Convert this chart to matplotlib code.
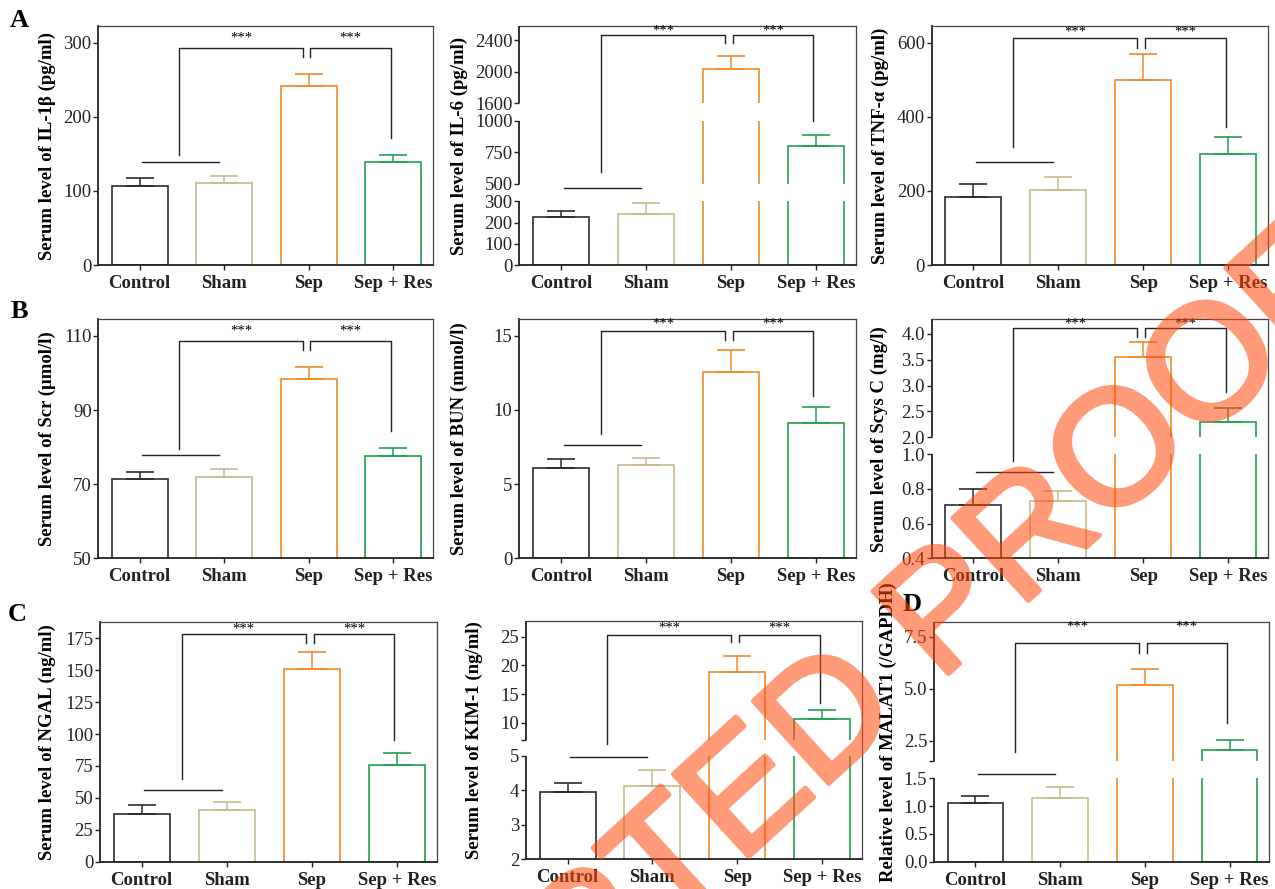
import matplotlib
matplotlib.use('Agg')
import matplotlib.pyplot as plt
import matplotlib.patheffects as pe
import numpy as np

plt.rcParams['font.family'] = ['Liberation Serif', 'DejaVu Serif']

groups = ['Control', 'Sham', 'Sep', 'Sep + Res']
bar_colors = ['#2b2b2b', '#c8bc8c', '#f08a2a', '#22a052']

# mean and upper error (SD) per group
il1b_mean = [107, 110, 242, 138.6]
il1b_err = [10, 10, 16, 10.4]
il6_mean = [225, 239, 2034, 800]
il6_err = [31, 52, 168, 88]
tnf_mean = [182.7, 201.6, 499.3, 299.6]
tnf_err = [35.9, 35.1, 69.4, 46.4]
scr_mean = [71.4, 72.0, 98.4, 77.7]
scr_err = [2.0, 2.0, 3.1, 2.1]
bun_mean = [6.10, 6.28, 12.57, 9.11]
bun_err = [0.57, 0.47, 1.46, 1.06]
scys_mean = [0.71, 0.729, 3.55, 2.29]
scys_err = [0.09, 0.061, 0.29, 0.27]
ngal_mean = [37.6, 40.2, 151.1, 75.5]
ngal_err = [6.8, 6.3, 13.3, 9.9]
kim1_mean = [3.96, 4.11, 18.8, 10.58]
kim1_err = [0.26, 0.49, 2.9, 1.69]
malat1_mean = [1.06, 1.14, 5.2, 2.05]
malat1_err = [0.13, 0.21, 0.77, 0.48]

# bracket heights: control/sham line, left leg end, top, Sep legs end, right leg end, stars
il1b_brk = [139, 148, 292.4, 281, 172, 306.7]
il6_brk = [454, 590, 2463, 2358, 1000, 2514]
tnf_brk = [278.8, 319, 612, 586.6, 371.7, 629.7]
scr_brk = [77.9, 79.5, 108.6, 106.1, 84.4, 111.2]
bun_brk = [7.63, 8.35, 15.29, 14.68, 10.93, 15.8]
scys_brk = [0.898, 0.963, 4.115, 3.94, 2.87, 4.18]
ngal_brk = [55.9, 64.8, 178, 171, 95, 182]
kim1_brk = [4.97, 6.49, 25.3, 24.0, 13.4, 26.6]
malat1_brk = [1.511, 1.99, 7.18, 6.7, 3.35, 7.95]

il1b_ticks = [0, 100, 200, 300]
il6_ticks = [0, 100, 200, 300, 500, 750, 1000, 1600, 2000, 2400]
tnf_ticks = [0, 200, 400, 600]
scr_ticks = [50, 70, 90, 110]
bun_ticks = [0, 5, 10, 15]
scys_ticks = [0.4, 0.6, 0.8, 1.0, 2.0, 2.5, 3.0, 3.5, 4.0]
scys_labels = ['0.4', '0.6', '0.8', '1.0', '2.0', '2.5', '3.0', '3.5', '4.0']
ngal_ticks = [0, 25, 50, 75, 100, 125, 150, 175]
kim1_ticks = [2, 3, 4, 5, 7, 10, 15, 20, 25]
kim1_labels = ['2', '3', '4', '5', '', '10', '15', '20', '25']
malat1_ticks = [0, 0.5, 1.0, 1.5, 1.55, 2.5, 5.0, 7.5]
malat1_labels = ['0.0', '0.5', '1.0', '1.5', '', '2.5', '5.0', '7.5']

W, H = 1275, 889


def piecewise(segments, sizes, gap):
    vals, pos, p = [], [], 0.0
    for i, ((lo, hi), s) in enumerate(zip(segments, sizes)):
        if i:
            p += gap
        vals += [lo, hi]
        pos += [p, p + s]
        p += s
    vals = np.array(vals, float)
    pos = np.array(pos, float)

    def interp(v, xs, ys):
        v = np.asarray(v, float)
        out = np.interp(v, xs, ys)
        s0 = (ys[1] - ys[0]) / (xs[1] - xs[0])
        s1 = (ys[-1] - ys[-2]) / (xs[-1] - xs[-2])
        out = np.where(v < xs[0], ys[0] + (v - xs[0]) * s0, out)
        out = np.where(v > xs[-1], ys[-1] + (v - xs[-1]) * s1, out)
        return out

    return (lambda v: interp(v, vals, pos)), (lambda v: interp(v, pos, vals))


panels = [
    dict(box=(98.3, 26, 433, 265), mean=il1b_mean, err=il1b_err, brk=il1b_brk,
         ylim=(0, 322.5), ticks=il1b_ticks, labels=None,
         ylabel='Serum level of IL-1β (pg/ml)', lab_x=47),
    dict(box=(519.3, 26, 856, 265), mean=il6_mean, err=il6_err, brk=il6_brk,
         ylim=(0, 2577), ticks=il6_ticks, labels=None,
         segs=[(0, 300), (500, 1000), (1600, 2577)], sizes=[63.7, 63, 77.3], gap=17.5,
         ylabel='Serum level of IL-6 (pg/ml)', lab_x=459),
    dict(box=(931.7, 26, 1268.3, 265), mean=tnf_mean, err=tnf_err, brk=tnf_brk,
         ylim=(0, 645), ticks=tnf_ticks, labels=None,
         ylabel='Serum level of TNF-α (pg/ml)', lab_x=880),
    dict(box=(98.3, 319.3, 433, 558.3), mean=scr_mean, err=scr_err, brk=scr_brk,
         ylim=(50, 114.5), ticks=scr_ticks, labels=None,
         ylabel='Serum level of Scr (μmol/l)', lab_x=47),
    dict(box=(519.3, 319.3, 856, 558.3), mean=bun_mean, err=bun_err, brk=bun_brk,
         ylim=(0, 16.1), ticks=bun_ticks, labels=None,
         ylabel='Serum level of BUN (mmol/l)', lab_x=459),
    dict(box=(931.7, 319.3, 1268.3, 558.3), mean=scys_mean, err=scys_err, brk=scys_brk,
         ylim=(0.4, 4.28), ticks=scys_ticks, labels=scys_labels,
         segs=[(0.4, 1.0), (2.0, 4.28)], sizes=[104, 118], gap=17,
         ylabel='Serum level of Scys C (mg/l)', lab_x=879),
    dict(box=(100, 622.3, 437, 861.7), mean=ngal_mean, err=ngal_err, brk=ngal_brk,
         ylim=(0, 187.5), ticks=ngal_ticks, labels=None,
         ylabel='Serum level of NGAL (ng/ml)', lab_x=47),
    dict(box=(526, 620.7, 862, 859.3), mean=kim1_mean, err=kim1_err, brk=kim1_brk,
         ylim=(2, 27.8), ticks=kim1_ticks, labels=kim1_labels,
         segs=[(2, 5), (7, 27.8)], sizes=[103.6, 119.3], gap=15.7,
         ylabel='Serum level of KIM-1 (ng/ml)', lab_x=474),
    dict(box=(934, 622.3, 1269.3, 861.7), mean=malat1_mean, err=malat1_err, brk=malat1_brk,
         ylim=(0, 8.19), ticks=malat1_ticks, labels=malat1_labels,
         segs=[(0, 1.5), (1.55, 8.19)], sizes=[83.4, 138.4], gap=17.6,
         ylabel='Relative level of MALAT1 (/GAPDH)', lab_x=888, lab_y=0.54),
]

fig = plt.figure(figsize=(W / 100, H / 100), dpi=100)
line_c = '#222222'
x = np.arange(len(groups))

for p in panels:
    l, t, r, b = p['box']
    ax = fig.add_axes([l / W, 1 - b / H, (r - l) / W, (b - t) / H])
    broken = 'segs' in p
    if broken:
        fwd, inv = piecewise(p['segs'], p['sizes'], p['gap'])
        ax.set_yscale('function', functions=(fwd, inv))
    ax.set_xlim(-0.49, 3.47)
    ax.set_ylim(*p['ylim'])

    ax.bar(x, p['mean'], width=0.66, fill=False, edgecolor=bar_colors,
           linewidth=1.2, zorder=2)
    for i in range(len(groups)):
        ax.errorbar(x[i], p['mean'][i], yerr=[[0], [p['err'][i]]], fmt='none',
                    ecolor=bar_colors[i], elinewidth=1.1, capsize=10,
                    capthick=1.2, zorder=2)

    if broken:
        segs = p['segs']
        for (lo0, hi0), (lo1, hi1) in zip(segs[:-1], segs[1:]):
            ax.axhspan(hi0, lo1, xmin=0.005, xmax=0.99, facecolor='white',
                       edgecolor='none', zorder=3)
        ax.spines['left'].set_visible(False)
        for lo, hi in segs:
            ax.vlines(0, lo, hi, transform=ax.get_yaxis_transform(),
                      colors=line_c, linewidth=1.3, clip_on=False, zorder=3.5)

    h, leg_l, top, leg_s, leg_r, star = p['brk']
    kw = dict(color=line_c, lw=1.0, zorder=4, clip_on=False)
    ax.plot([0.03, 0.94], [h, h], **kw)
    ax.plot([0.47, 0.47, 1.93, 1.93], [leg_l, top, top, leg_s], **kw)
    ax.plot([2.02, 2.02, 2.97, 2.97], [leg_s, top, top, leg_r], **kw)
    ax.text(1.2, star, '***', ha='center', va='center', fontsize=10.5, zorder=4)
    ax.text(2.495, star, '***', ha='center', va='center', fontsize=10.5, zorder=4)

    for side in ['top', 'right']:
        ax.spines[side].set_linewidth(0.9)
        ax.spines[side].set_color('#444444')
    for side in ['left', 'bottom']:
        ax.spines[side].set_linewidth(1.3)
        ax.spines[side].set_color(line_c)

    ax.set_xticks(x)
    ax.set_xticklabels(groups, fontweight='bold', fontsize=13.5)
    ax.set_yticks(p['ticks'])
    ax.set_yticklabels(p['labels'] if p['labels'] else [str(v) for v in p['ticks']],
                       fontsize=13.5)
    ax.minorticks_off()
    ax.tick_params(axis='both', direction='out', length=3.6, width=1.0,
                   colors=line_c)
    ax.tick_params(axis='y', pad=1.2)
    ax.tick_params(axis='x', pad=3.5)

    ax.set_ylabel(p['ylabel'], fontweight='bold', fontsize=13.5, va='center')
    ax.yaxis.set_label_coords((p['lab_x'] - l) / (r - l), p.get('lab_y', 0.5))

for letter, (px, py) in zip('ABCD', [(10, 9), (11, 300), (8, 603), (903, 593)]):
    fig.text(px / W, 1 - py / H, letter, fontsize=19, fontweight='bold',
             ha='left', va='top')


def fade(img, dpi):
    img = img.copy()
    img[..., 3] *= 0.55
    return img, 0, 0


wm_color = '#ff4a0a'
wm = fig.text(0.6345, 0.0984, 'ACCEPTED PROOF', rotation=42.5, rotation_mode='anchor',
              ha='center', va='baseline', fontsize=117, family='Liberation Sans',
              color=wm_color, zorder=10,
              path_effects=[pe.Stroke(linewidth=3.5, foreground=wm_color), pe.Normal()])
wm.set_agg_filter(fade)

fig.savefig('out.png', dpi=100)
